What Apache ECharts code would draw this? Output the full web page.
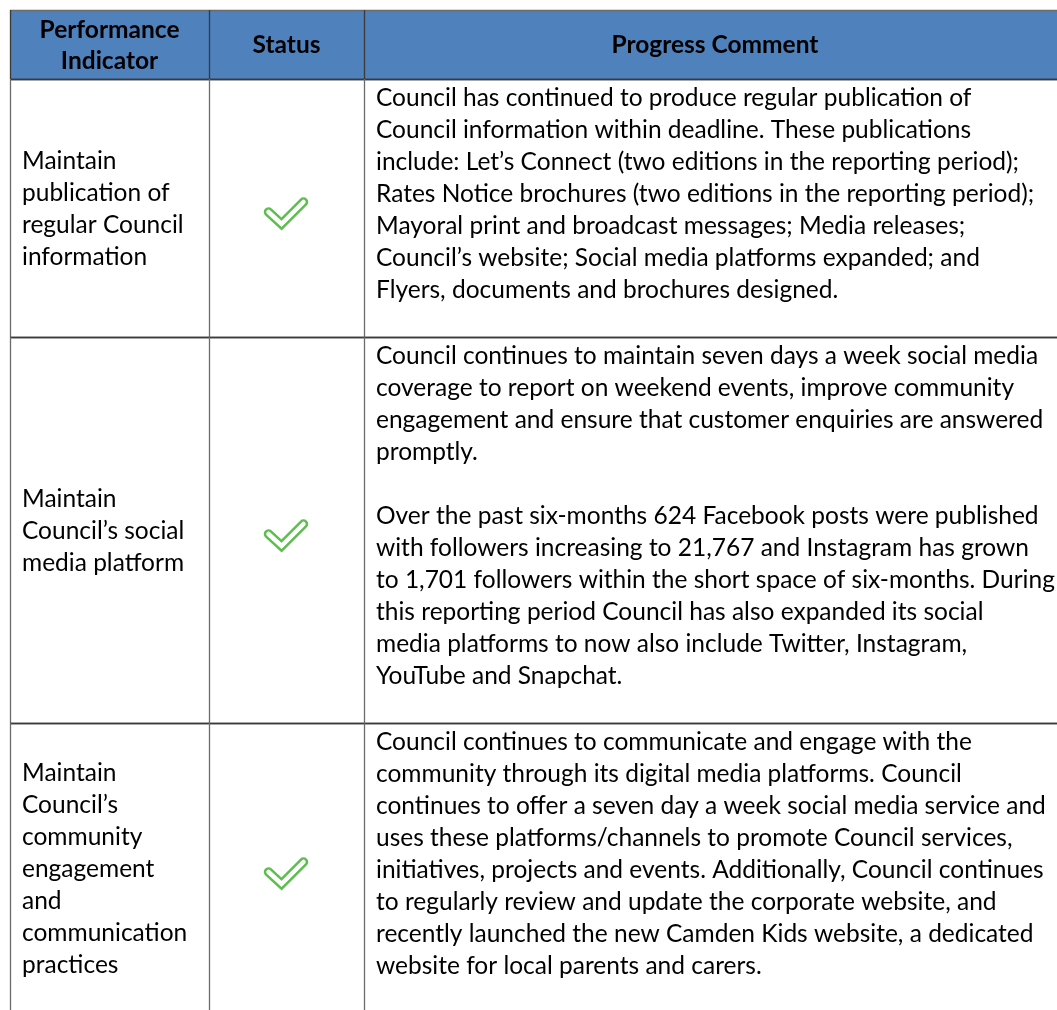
<!DOCTYPE html>
<html><head><meta charset="utf-8">
<script src="https://cdn.jsdelivr.net/npm/echarts@6/dist/echarts.min.js"></script>
<style>html,body{margin:0;padding:0;background:#fff}#c{width:1057px;height:1010px}</style>
</head><body><div id="c"></div>
<script>
const headers = [['Performance', 'Indicator'], ['Status'], ['Progress Comment']];
const indicators = [
  ['Maintain', 'publication of', 'regular Council', 'information'],
  ['Maintain', 'Council’s social', 'media platform'],
  ['Maintain', 'Council’s', 'community', 'engagement', 'and', 'communication', 'practices']
];
const statuses = ['done', 'done', 'done'];
const comments = [
  ['Council has continued to produce regular publication of',
   'Council information within deadline. These publications',
   'include: Let’s Connect (two editions in the reporting period);',
   'Rates Notice brochures (two editions in the reporting period);',
   'Mayoral print and broadcast messages; Media releases;',
   'Council’s website; Social media platforms expanded; and',
   'Flyers, documents and brochures designed.'],
  ['Council continues to maintain seven days a week social media',
   'coverage to report on weekend events, improve community',
   'engagement and ensure that customer enquiries are answered',
   'promptly.',
   '',
   'Over the past six-months 624 Facebook posts were published',
   'with followers increasing to 21,767 and Instagram has grown',
   'to 1,701 followers within the short space of six-months. During',
   'this reporting period Council has also expanded its social',
   'media platforms to now also include Twitter, Instagram,',
   'YouTube and Snapchat.'],
  ['Council continues to communicate and engage with the',
   'community through its digital media platforms. Council',
   'continues to offer a seven day a week social media service and',
   'uses these platforms/channels to promote Council services,',
   'initiatives, projects and events. Additionally, Council continues',
   'to regularly review and update the corporate website, and',
   'recently launched the new Camden Kids website, a dedicated',
   'website for local parents and carers.']
];

// layout (pixel units on hidden value axes)
const L = {
  left: 10, top: 10, cols: [10, 209, 364, 1066],
  headerH: 69, lineH: 32, padTop: 18, padBottom: 48 - 32,
  font: 'Lato, "Open Sans", sans-serif', fontSize: 24.5, headSize: 24.5,
  headBg: '#4F81BD', hLine: '#3a3a3a', vLine: '#6b6b6b', check: '#5cbf4c'
};

function rowBounds() {
  const b = [[L.top, L.top + L.headerH]];
  let y = L.top + L.headerH;
  comments.forEach(c => {
    const h = L.padTop + c.length * L.lineH + L.padBottom;
    b.push([y, y + h]); y += h;
  });
  return b;
}
const bounds = rowBounds();
const rows = bounds.map((b, i) => [i]);

function renderItem(params, api) {
  const i = api.value(0);
  const [y0, y1] = bounds[i];
  const P = (x, y) => api.coord([x, y]);
  const ch = [];
  const c = L.cols;
  const tl = P(c[0], y0), br = P(c[3], y1);
  if (i === 0) {
    ch.push({type: 'rect', shape: {x: tl[0], y: tl[1], width: br[0] - tl[0], height: br[1] - tl[1]},
      style: {fill: L.headBg}});
    headers.forEach((h, k) => {
      const cx = (c[k] + c[k + 1]) / 2, cy = (y0 + y1) / 2 + 1;
      h.forEach((t, j) => {
        const p = P(cx, cy + (j - (h.length - 1) / 2) * 31);
        ch.push({type: 'text', style: {x: p[0], y: p[1], text: t, fill: '#000',
          font: 'bold ' + L.headSize + 'px ' + L.font, textAlign: 'center', textVerticalAlign: 'middle'}});
      });
    });
  } else {
    const r = i - 1;
    const ind = indicators[r];
    const mid = (y0 + y1) / 2;
    ind.forEach((t, j) => {
      const p = P(c[0] + 12, mid + 1 + (j - (ind.length - 1) / 2) * L.lineH);
      ch.push({type: 'text', style: {x: p[0], y: p[1], text: t, fill: '#000',
        font: L.fontSize + 'px ' + L.font, textAlign: 'left', textVerticalAlign: 'middle'}});
    });
    if (statuses[r] === 'done') {
      const cx = (c[1] + c[2]) / 2, cy = mid + 3;
      const pts = [[-18, 1], [-5, 13], [17, -9]].map(q => P(cx + q[0], cy + q[1]));
      ch.push({type: 'polyline', shape: {points: pts},
        style: {stroke: L.check, lineWidth: 9.5, lineJoin: 'miter', lineCap: 'round', fill: null}});
      ch.push({type: 'polyline', shape: {points: pts},
        style: {stroke: '#fff', lineWidth: 4.5, lineJoin: 'miter', lineCap: 'round', fill: null}});
    }
    comments[r].forEach((t, j) => {
      const p = P(c[2] + 12, y0 + L.padTop + j * L.lineH + 1);
      ch.push({type: 'text', style: {x: p[0], y: p[1], text: t, fill: '#000',
        font: L.fontSize + 'px ' + L.font, textAlign: 'left', textVerticalAlign: 'middle'}});
    });
  }
  // borders
  const a = P(c[0], y0), b2 = P(c[3], y0), d = P(c[0], y1), e = P(c[3], y1);
  ch.push({type: 'line', shape: {x1: a[0], y1: a[1] + 0.5, x2: b2[0], y2: b2[1] + 0.5},
    style: {stroke: i === 0 ? '#6b6b6b' : L.hLine, lineWidth: 1.3}});
  ch.push({type: 'line', shape: {x1: d[0], y1: d[1] + 0.5, x2: e[0], y2: e[1] + 0.5},
    style: {stroke: L.hLine, lineWidth: 1.3}});
  c.forEach(x => {
    const p = P(x, y0), q = P(x, y1);
    ch.push({type: 'line', shape: {x1: p[0] + 0.5, y1: p[1], x2: q[0] + 0.5, y2: q[1]},
      style: {stroke: i === 0 ? '#3a3a3a' : L.vLine, lineWidth: 1.3}});
  });
  return {type: 'group', children: ch};
}

const chart = echarts.init(document.getElementById('c'));
chart.setOption({
  animation: false,
  grid: {left: 0, right: 0, top: 0, bottom: 0},
  xAxis: {type: 'value', min: 0, max: 1057, show: false},
  yAxis: {type: 'value', min: 0, max: 1010, inverse: true, show: false},
  series: [{type: 'custom', renderItem: renderItem, data: rows, clip: true}]
});
</script></body></html>
